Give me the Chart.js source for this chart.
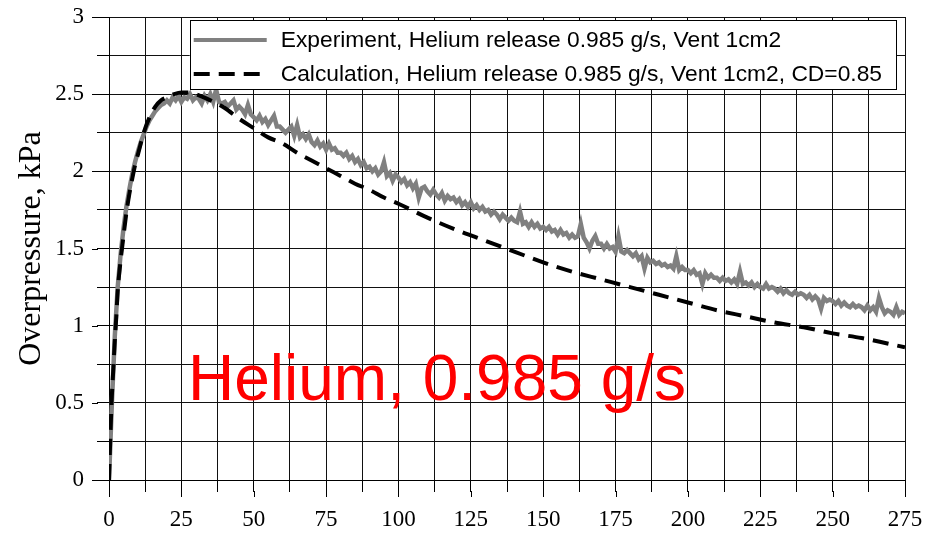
<!DOCTYPE html>
<html>
<head>
<meta charset="utf-8">
<script src="https://cdn.jsdelivr.net/npm/chart.js@4/dist/chart.umd.min.js"></script>
<style>
  html, body { margin: 0; padding: 0; background: #fff; }
</style>
</head>
<body>
<canvas id="pressureChart" width="933" height="536"></canvas>
<script>
// measured overpressure, kPa, sampled once per second from t = 0
const expPressure = [
  0, 0.50, 0.93, 1.25, 1.46, 1.63, 1.77, 1.88, 1.98, 2.06,
  2.13, 2.19, 2.24, 2.29, 2.33, 2.36, 2.39, 2.41, 2.43, 2.44,
  2.46, 2.44, 2.48, 2.46, 2.49, 2.45, 2.48, 2.47, 2.50, 2.46,
  2.48, 2.47, 2.44, 2.49, 2.46, 2.50, 2.45, 2.53, 2.45, 2.44,
  2.45, 2.42, 2.44, 2.46, 2.40, 2.42, 2.40, 2.37, 2.43, 2.37,
  2.35, 2.33, 2.36, 2.32, 2.34, 2.30, 2.33, 2.36, 2.29, 2.29,
  2.27, 2.25, 2.27, 2.29, 2.23, 2.30, 2.22, 2.24, 2.21, 2.24,
  2.19, 2.17, 2.20, 2.16, 2.18, 2.14, 2.18, 2.14, 2.15, 2.12,
  2.12, 2.10, 2.12, 2.08, 2.10, 2.06, 2.08, 2.04, 2.06, 2.02,
  2.03, 2.00, 2.02, 1.98, 2.00, 2.06, 1.97, 1.99, 1.94, 1.98,
  1.96, 1.93, 1.95, 1.91, 1.93, 1.89, 1.92, 1.83, 1.89, 1.90,
  1.87, 1.85, 1.88, 1.85, 1.83, 1.86, 1.81, 1.84, 1.82, 1.83,
  1.80, 1.82, 1.78, 1.80, 1.77, 1.80, 1.76, 1.78, 1.75, 1.77,
  1.74, 1.75, 1.72, 1.74, 1.72, 1.69, 1.72, 1.70, 1.68, 1.70,
  1.68, 1.67, 1.74, 1.66, 1.67, 1.64, 1.67, 1.64, 1.66, 1.63,
  1.64, 1.62, 1.64, 1.61, 1.62, 1.59, 1.62, 1.59, 1.60, 1.57,
  1.59, 1.57, 1.58, 1.66, 1.57, 1.54, 1.50, 1.55, 1.58, 1.53,
  1.53, 1.50, 1.53, 1.50, 1.51, 1.48, 1.58, 1.48, 1.47, 1.49,
  1.47, 1.45, 1.47, 1.43, 1.45, 1.37, 1.44, 1.41, 1.42, 1.40,
  1.41, 1.39, 1.40, 1.38, 1.39, 1.37, 1.45, 1.36, 1.38, 1.36,
  1.36, 1.34, 1.36, 1.33, 1.34, 1.27, 1.34, 1.31, 1.33, 1.31,
  1.31, 1.29, 1.31, 1.29, 1.30, 1.28, 1.30, 1.27, 1.35, 1.27,
  1.28, 1.26, 1.28, 1.25, 1.27, 1.25, 1.24, 1.27, 1.24, 1.25,
  1.24, 1.22, 1.24, 1.21, 1.23, 1.21, 1.20, 1.22, 1.20, 1.21,
  1.20, 1.18, 1.20, 1.17, 1.19, 1.17, 1.11, 1.18, 1.16, 1.17,
  1.16, 1.14, 1.16, 1.13, 1.15, 1.13, 1.12, 1.14, 1.12, 1.13,
  1.12, 1.10, 1.13, 1.10, 1.12, 1.09, 1.18, 1.12, 1.08, 1.10,
  1.09, 1.07, 1.12, 1.07, 1.09, 1.08
];

// model result
const calcTime = [0, 0.5, 1, 1.5, 2, 2.5, 3, 4, 5, 6, 7, 8, 9, 10, 12, 14, 16, 18, 20, 22.5,
  25, 27.5, 30, 35, 40, 45, 50, 55, 60, 65, 70, 75, 80, 85, 90, 95, 100, 110, 120, 130,
  140, 150, 160, 170, 180, 190, 200, 210, 220, 230, 240, 250, 260, 270, 275];
const calcPressure = [0, 0.30, 0.55, 0.72, 0.90, 1.05, 1.22, 1.42, 1.58, 1.73, 1.85, 1.95, 2.04, 2.11, 2.25, 2.35, 2.42, 2.46, 2.48, 2.50,
  2.51, 2.51, 2.50, 2.46, 2.41, 2.34, 2.28, 2.22, 2.18, 2.12, 2.07, 2.02, 1.97, 1.92, 1.88, 1.83, 1.79, 1.70, 1.62, 1.55,
  1.48, 1.41, 1.35, 1.30, 1.25, 1.20, 1.15, 1.10, 1.06, 1.02, 0.99, 0.95, 0.92, 0.88, 0.86];

const seriesLabels = [
  'Experiment, Helium release 0.985 g/s, Vent 1cm2',
  'Calculation, Helium release 0.985 g/s, Vent 1cm2, CD=0.85'
];
const caseLabel = 'Helium, 0.985 g/s';
const yTitle = 'Overpressure, kPa';

const serif = "'Liberation Serif', 'Times New Roman', serif";
const sans = "'Liberation Sans', Arial, sans-serif";

// longer marks for the labelled ticks
const majorTicks = {
  id: 'majorTicks',
  afterDraw(chart) {
    const { ctx, chartArea, scales } = chart;
    ctx.save();
    ctx.strokeStyle = '#000';
    ctx.lineWidth = 1;
    ctx.beginPath();
    scales.x.ticks.forEach(t => {
      if (t.value % 25 === 0) {
        const px = Math.round(scales.x.getPixelForValue(t.value)) + 0.5;
        ctx.moveTo(px, chartArea.bottom + 11);
        ctx.lineTo(px, chartArea.bottom + 17);
      }
    });
    scales.y.ticks.forEach(t => {
      if (Math.abs(t.value * 2 - Math.round(t.value * 2)) < 1e-6) {
        const py = Math.round(scales.y.getPixelForValue(t.value)) + 0.5;
        ctx.moveTo(chartArea.left - 11, py);
        ctx.lineTo(chartArea.left - 17, py);
      }
    });
    ctx.stroke();
    ctx.restore();
  }
};

// red case caption and framed legend inside the plot
const overlay = {
  id: 'overlay',
  afterDatasetsDraw(chart) {
    const { ctx, chartArea, scales } = chart;
    ctx.save();
    ctx.fillStyle = '#ff0000';
    ctx.font = '64px ' + sans;
    ctx.textBaseline = 'alphabetic';
    ctx.textAlign = 'left';
    ctx.fillText(caseLabel, scales.x.getPixelForValue(27.3), scales.y.getPixelForValue(0.52));

    ctx.font = '22.8px ' + sans;
    const textW = Math.max(...seriesLabels.map(s => ctx.measureText(s).width));
    const lineLen = 73;
    const w = 4 + lineLen + 14 + textW + 14;
    const right = chartArea.right - 9;
    const left = right - w;
    const top = chartArea.top + 3;
    const h = 69;
    ctx.fillStyle = '#fff';
    ctx.fillRect(left, top, w, h);
    ctx.strokeStyle = '#000';
    ctx.lineWidth = 1;
    ctx.strokeRect(Math.round(left) + 0.5, top + 0.5, Math.round(w), h);

    const rows = [top + 20, top + 54];
    chart.data.datasets.forEach((ds, i) => {
      ctx.beginPath();
      ctx.strokeStyle = ds.borderColor;
      ctx.lineWidth = i === 0 ? 4 : ds.borderWidth;
      ctx.setLineDash(ds.borderDash || []);
      ctx.moveTo(left + 4, rows[i]);
      ctx.lineTo(left + 4 + lineLen, rows[i]);
      ctx.stroke();
      ctx.setLineDash([]);
      ctx.fillStyle = '#000';
      ctx.textBaseline = 'middle';
      ctx.fillText(ds.label, left + 4 + lineLen + 14, rows[i] + 1);
    });
    ctx.restore();
  }
};

new Chart(document.getElementById('pressureChart'), {
  type: 'line',
  data: {
    datasets: [{
      label: seriesLabels[0],
      data: expPressure.map((p, i) => ({ x: i, y: p })),
      borderColor: '#808080',
      borderWidth: 4.5,
      pointRadius: 0,
      tension: 0,
      order: 2
    }, {
      label: seriesLabels[1],
      data: calcTime.map((t, i) => ({ x: t, y: calcPressure[i] })),
      borderColor: '#000',
      borderWidth: 4,
      borderDash: [16, 9],
      pointRadius: 0,
      cubicInterpolationMode: 'monotone',
      order: 1
    }]
  },
  options: {
    responsive: false,
    animation: false,
    layout: { padding: { left: 0, top: 17, right: 28, bottom: 0 } },
    plugins: { legend: { display: false }, tooltip: { enabled: false } },
    scales: {
      x: {
        type: 'linear',
        min: 0, max: 275,
        afterFit(scale) {
          scale.height = 56;
          scale.paddingLeft = 0;
          scale.paddingRight = 0;
        },
        border: { color: '#000', width: 1 },
        grid: { color: '#111', lineWidth: 1, tickLength: 12, tickColor: '#000' },
        ticks: {
          stepSize: 12.5,
          autoSkip: false,
          maxRotation: 0,
          padding: 14,
          color: '#000',
          font: { family: serif, size: 23 },
          callback: v => (v % 25 === 0 ? String(v) : '')
        }
      },
      y: {
        min: 0, max: 3,
        afterFit(scale) {
          scale.width = 109;
          scale.paddingTop = 0;
          scale.paddingBottom = 0;
        },
        border: { color: '#000', width: 1 },
        grid: { color: '#111', lineWidth: 1, tickLength: 12, tickColor: '#000' },
        ticks: {
          stepSize: 0.25,
          autoSkip: false,
          padding: 13,
          color: '#000',
          font: { family: serif, size: 23 },
          callback: v => (Math.abs(v * 2 - Math.round(v * 2)) < 1e-6 ? String(v) : '')
        },
        title: {
          display: true,
          text: yTitle,
          color: '#000',
          padding: { top: 12, bottom: 0 },
          font: { family: serif, size: 32, weight: 'normal' }
        }
      }
    }
  },
  plugins: [majorTicks, overlay]
});
</script>
</body>
</html>
